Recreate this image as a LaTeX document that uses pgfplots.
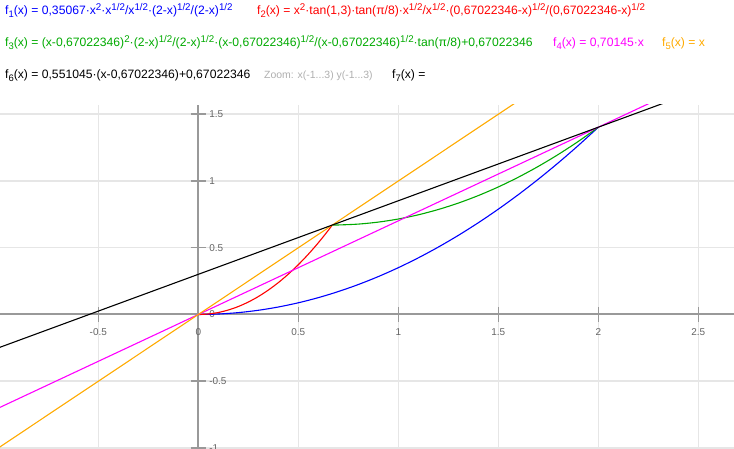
\documentclass[border=0pt]{standalone}
\usepackage{fontspec}
\setmainfont{Liberation Sans}
\usepackage{pgfplots}
\pgfplotsset{compat=1.18}

\definecolor{fblue}{RGB}{0,0,255}
\definecolor{fred}{RGB}{255,0,0}
\definecolor{fgreen}{RGB}{0,170,0}
\definecolor{fmag}{RGB}{255,0,255}
\definecolor{forange}{RGB}{255,170,0}
\definecolor{axgray}{RGB}{153,153,153}
\definecolor{gridgray}{RGB}{230,230,230}
\definecolor{labgray}{RGB}{100,100,100}
\definecolor{zoomgray}{RGB}{175,175,175}

% raised and lowered indices of the function list
\newcommand{\up}[1]{\raisebox{0.4em}{\fontsize{9.8}{10}\selectfont #1}}
\newcommand{\dn}[1]{\raisebox{-0.22em}{\fontsize{9.5}{10}\selectfont #1}}
\newcommand{\hf}{\up{1/2}}
\newcommand{\sq}{\up{2}}
\newcommand{\hdr}{\fontsize{12.2}{15}\selectfont}

\begin{document}
\begin{tikzpicture}
\begin{axis}[
  at={(0,0)}, anchor=south west,
  scale only axis, width=734bp, height=344bp,
  xmin=-0.9915, xmax=2.6785, ymin=-1.0075, ymax=1.5693,
  axis lines=middle,
  axis line style={axgray, line width=2bp, -},
  xtick={-0.5,0,0.5,1,1.5,2,2.5},
  xticklabels={-0.5,0,0.5,1,1.5,2,2.5},
  ytick={-1,-0.5,0,0.5,1,1.5},
  yticklabels={-1,-0.5,0,0.5,1,1.5},
  hide obscured x ticks=false, hide obscured y ticks=false,
  grid=major,
  major grid style={gridgray, line width=1.5bp},
  major tick length=15bp, tick align=center,
  tick style={axgray, line width=1.5bp},
  xticklabel style={font=\fontsize{10}{12}\selectfont, text=labgray, anchor=north, yshift=-3bp},
  yticklabel style={font=\fontsize{10}{12}\selectfont, text=labgray, anchor=west, xshift=15bp},
  clip=true,
]
% f1(x) = 0.35067 x^2 on (0,2)
\addplot[fblue, line width=1.1bp, smooth] coordinates {
 (0,0) (0.1,0.003507) (0.2,0.014027) (0.3,0.031560) (0.4,0.056107)
 (0.5,0.087668) (0.6,0.126241) (0.7,0.171828) (0.8,0.224429) (0.9,0.284043)
 (1.0,0.350670) (1.1,0.424311) (1.2,0.504965) (1.3,0.592632) (1.4,0.687313)
 (1.5,0.789008) (1.6,0.897715) (1.7,1.013436) (1.8,1.136171) (1.9,1.265919)
 (2.0,1.402680)};
% f2(x) = tan(1.3) tan(pi/8) x^2 on (0,0.67022346)
\addplot[fred, line width=1.1bp, smooth] coordinates {
 (0,0) (0.05,0.00373) (0.1,0.01492) (0.15,0.03357) (0.2,0.05968)
 (0.25,0.09325) (0.3,0.13428) (0.35,0.18277) (0.4,0.23873) (0.45,0.30214)
 (0.5,0.37301) (0.55,0.45134) (0.6,0.53713) (0.65,0.63039) (0.67022,0.67022)};
% f3(x) = tan(pi/8) (x-a)^2 + a on (a,2)
\addplot[fgreen, line width=1.1bp, smooth] coordinates {
 (0.67022,0.67022) (0.7,0.67059) (0.8,0.67720) (0.9,0.69209) (1.0,0.71527)
 (1.1,0.74673) (1.2,0.78648) (1.3,0.83451) (1.4,0.89082) (1.5,0.95542)
 (1.6,1.02830) (1.7,1.10947) (1.8,1.19892) (1.9,1.29666) (2.0,1.40268)};
% f4(x) = 0.70145 x
\addplot[fmag, line width=1.1bp] coordinates {(-1,-0.70145) (3,2.10435)};
% f5(x) = x
\addplot[forange, line width=1.1bp] coordinates {(-1,-1) (3,3)};
% f6(x) = 0.551045 (x-a) + a
\addplot[black, line width=1.1bp] coordinates {(-1,-0.250145) (3,1.954034)};
\end{axis}

% function list above the plot
\node[anchor=base west, inner sep=0, text=fblue, font=\hdr] at (5bp,434bp)
  {f\dn{1}(x) = 0,35067·x\sq·x\hf/x\hf·(2-x)\hf/(2-x)\hf};
\node[anchor=base west, inner sep=0, text=fred, font=\hdr] at (257bp,434bp)
  {f\dn{2}(x) = x\sq·tan(1,3)·tan(π/8)·x\hf/x\hf·(0,67022346-x)\hf/(0,67022346-x)\hf};
\node[anchor=base west, inner sep=0, text=fgreen, font=\hdr] at (5bp,402bp)
  {f\dn{3}(x) = (x-0,67022346)\sq·(2-x)\hf/(2-x)\hf·(x-0,67022346)\hf/(x-0,67022346)\hf·tan(π/8)+0,67022346};
\node[anchor=base west, inner sep=0, text=fmag, font=\hdr] at (553bp,402bp)
  {f\dn{4}(x) = 0,70145·x};
\node[anchor=base west, inner sep=0, text=forange, font=\hdr] at (662bp,402bp)
  {f\dn{5}(x) = x};
\node[anchor=base west, inner sep=0, text=black, font=\hdr] at (5bp,370bp)
  {f\dn{6}(x) = 0,551045·(x-0,67022346)+0,67022346};
\node[anchor=base west, inner sep=0, text=zoomgray, font=\fontsize{10.5}{13}\selectfont] at (264bp,370bp)
  {Zoom: x(-1...3) y(-1...3)};
\node[anchor=base west, inner sep=0, text=black, font=\hdr] at (392bp,370bp)
  {f\dn{7}(x) =};

\pgfresetboundingbox
\useasboundingbox (0,0) rectangle (734bp,449bp);
\end{tikzpicture}
\end{document}
